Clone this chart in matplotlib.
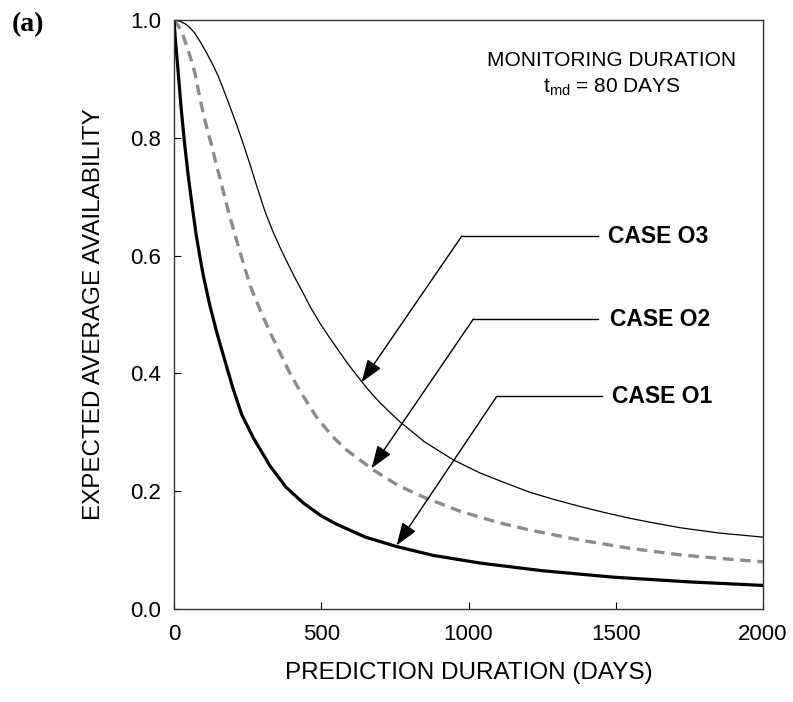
import matplotlib
matplotlib.use("Agg")
import matplotlib.pyplot as plt

# ---- data ----
o1_days = [0, 5, 12, 24, 36, 49, 63, 75, 88, 100, 122, 145, 168, 200, 230, 270, 326, 380, 439, 500, 552, 650, 756, 880, 1039, 1250, 1492, 1750, 2000]
o1_vals = [1.0, 0.965, 0.925, 0.852, 0.79, 0.733, 0.68, 0.636, 0.598, 0.565, 0.515, 0.47, 0.43, 0.375, 0.33, 0.29, 0.243, 0.207, 0.18, 0.158, 0.144, 0.122, 0.106, 0.091, 0.078, 0.065, 0.054, 0.046, 0.040]

o2_days = [0, 15, 30, 45, 60, 71, 85, 100, 115, 128, 145, 162, 179, 196, 213, 235, 258, 292, 326, 360, 394, 428, 485, 540, 586, 677, 760, 847, 971, 1107, 1209, 1379, 1548, 1718, 1850, 2000]
o2_vals = [1.0, 0.99, 0.975, 0.953, 0.93, 0.91, 0.875, 0.84, 0.81, 0.787, 0.752, 0.72, 0.686, 0.655, 0.625, 0.588, 0.55, 0.508, 0.47, 0.435, 0.40, 0.37, 0.325, 0.292, 0.27, 0.236, 0.21, 0.19, 0.166, 0.146, 0.134, 0.117, 0.103, 0.092, 0.086, 0.080]

o3_days = [0, 20, 40, 54, 70, 88, 110, 134, 150, 168, 190, 213, 235, 258, 283, 309, 335, 360, 383, 410, 439, 466, 496, 525, 553, 585, 620, 660, 700, 733, 767, 850, 949, 1039, 1120, 1209, 1290, 1379, 1460, 1548, 1630, 1718, 1850, 2000]
o3_vals = [1.0, 0.998, 0.993, 0.987, 0.978, 0.964, 0.945, 0.922, 0.905, 0.882, 0.853, 0.822, 0.79, 0.755, 0.715, 0.675, 0.642, 0.614, 0.59, 0.563, 0.536, 0.51, 0.485, 0.463, 0.443, 0.42, 0.397, 0.372, 0.35, 0.334, 0.318, 0.284, 0.253, 0.231, 0.215, 0.198, 0.186, 0.174, 0.164, 0.154, 0.146, 0.138, 0.129, 0.122]

x_ticks = [0, 500, 1000, 1500, 2000]
y_ticks = [0.0, 0.2, 0.4, 0.6, 0.8, 1.0]
y_ticklabels = ["0.0", "0.2", "0.4", "0.6", "0.8", "1.0"]

case_labels = ["CASE O3", "CASE O2", "CASE O1"]
case_tips = [(637, 0.385), (671, 0.239), (756, 0.108)]
case_elbows = [(977, 0.633), (1016, 0.492), (1096, 0.361)]
case_ends = [1441, 1441, 1452]
case_text_x = [1474, 1480, 1486]

plt.rcParams['font.family'] = ['Liberation Sans', 'DejaVu Sans']

fig = plt.figure(figsize=(7.93, 7.02), dpi=100)
ax = fig.add_axes([0.2194, 0.1325, 0.7428, 0.839])

ax.plot(o3_days, o3_vals, color='black', lw=0.9, solid_joinstyle='round')
ax.plot(o2_days, o2_vals, color='#8c8c8c', lw=2.4, dashes=(3.2, 2.0))
ax.plot(o1_days, o1_vals, color='black', lw=2.3, solid_joinstyle='round')

ax.set_xlim(0, 2000)
ax.set_ylim(0, 1.0)
ax.set_xticks(x_ticks)
ax.set_yticks(y_ticks)
ax.set_yticklabels(y_ticklabels)
ax.tick_params(axis='both', direction='in', length=5, width=0.8, labelsize=16)
ax.tick_params(axis='x', pad=11)
ax.tick_params(axis='y', pad=9)
for s in ax.spines.values():
    s.set_linewidth(1.0)
    s.set_color('#333333')

ax.set_xlabel("PREDICTION DURATION (DAYS)", fontsize=17.5, labelpad=12)
ax.set_ylabel("EXPECTED AVERAGE AVAILABILITY", fontsize=17.5, labelpad=18)

for lab, tip, elb, xe, xt in zip(case_labels, case_tips, case_elbows, case_ends, case_text_x):
    ax.plot([elb[0], xe], [elb[1], elb[1]], color='black', lw=1.0)
    ax.annotate("", xy=tip, xytext=elb,
                arrowprops=dict(arrowstyle='-|>,head_length=0.7,head_width=0.25',
                                color='black', lw=1.0, shrinkA=0, shrinkB=0,
                                mutation_scale=20))
    ax.text(xt, elb[1], lab, fontsize=16.5, fontweight='bold', va='center', ha='left')

ax.text(1487, 0.932, "MONITORING DURATION", fontsize=15, ha='center', va='center')
ax.text(1487, 0.886, r"t$_{\mathregular{md}}$ = 80 DAYS", fontsize=15, ha='center', va='center')

fig.text(0.015, 0.965, "(a)", fontsize=20, fontweight='bold', family='Liberation Serif', va='center', ha='left')

fig.savefig("out.png", dpi=100)
